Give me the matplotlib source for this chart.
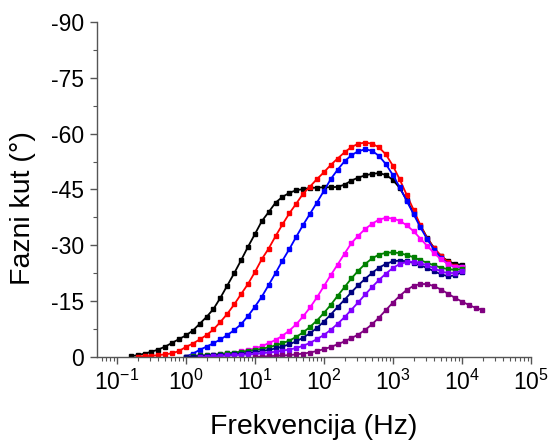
import matplotlib
matplotlib.use("Agg")
import matplotlib.pyplot as plt
import matplotlib.ticker as mticker
import numpy as np

plt.rcParams['font.family'] = ['Liberation Sans', 'DejaVu Sans']
plt.rcParams['mathtext.fontset'] = 'custom'
plt.rcParams['mathtext.rm'] = 'Liberation Sans'
plt.rcParams['axes.unicode_minus'] = False

# frequency grid, 10 points per decade (Hz)
freq = [0.158, 0.2, 0.251, 0.316, 0.398, 0.501, 0.631, 0.794,
        1.0, 1.26, 1.58, 2.0, 2.51, 3.16, 3.98, 5.01, 6.31, 7.94,
        10, 12.6, 15.8, 20.0, 25.1, 31.6, 39.8, 50.1, 63.1, 79.4,
        100, 126, 158, 200, 251, 316, 398, 501, 631, 794,
        1000, 1259, 1585, 1995, 2512, 3162, 3981, 5012, 6310, 7943,
        10000, 12589, 15849, 19953]

# phase angle (deg), first value matches freq[start]
black = [-0.2, -0.5, -0.9, -1.4, -2.0, -2.8, -3.8, -4.8,
         -5.8, -7.1, -8.9, -10.8, -12.9, -15.9, -19.2, -22.5, -26.0, -29.6,
         -33.0, -36.5, -38.9, -41.5, -43.0, -44.1, -44.8, -45.1, -45.4, -45.5,
         -45.6, -45.6, -45.7, -46.3, -47.4, -48.2, -48.8, -49.2, -49.4, -48.9,
         -47.6, -45.4, -42.2, -38.7, -35.3, -32.0, -29.2, -27.0, -25.8, -25.0,
         -24.8]
red = [-0.1, -0.2, -0.3, -0.5, -0.7, -1.0, -1.6,
       -2.7, -3.6, -4.7, -5.9, -7.4, -9.4, -11.6, -14.1, -16.9, -19.6,
       -22.8, -26.3, -29.1, -32.5, -35.6, -38.6, -41.2, -43.9, -45.8, -47.8,
       -49.6, -51.6, -53.3, -55.0, -56.4, -57.3, -57.6, -57.3, -56.3, -54.4,
       -51.4, -47.7, -43.6, -39.6, -35.4, -31.8, -29.2, -27.2, -25.4, -24.4,
       -24.0]
blue = [-0.1, -0.9, -1.9, -2.8, -3.7, -4.7, -5.9, -7.2, -8.8, -11.0,
        -13.5, -16.2, -19.3, -22.6, -25.9, -29.0, -32.3, -35.5, -38.5, -41.5,
        -44.6, -47.8, -50.3, -52.6, -54.2, -55.3, -55.8, -55.4, -54.0, -51.8,
        -48.9, -45.6, -42.0, -38.4, -34.8, -31.6, -28.8, -26.6, -25.0, -24.2,
        -24.1]
magenta = [-0.1, -0.3, -0.4, -0.5, -0.6, -0.8, -1.0, -1.2, -1.5, -1.9,
           -2.3, -2.9, -3.7, -4.6, -5.7, -7.1, -8.8, -10.9, -13.3, -16.0,
           -19.0, -22.0, -24.8, -27.8, -30.6, -32.6, -34.4, -35.8, -36.9, -37.4,
           -37.2, -36.6, -35.4, -33.8, -31.8, -29.8, -27.9, -26.2, -25.0, -24.3,
           -24.2]
green = [0.0, -0.2, -0.4, -0.5, -0.6, -0.8, -1.0, -1.2, -1.4, -1.6,
         -1.9, -2.2, -2.6, -3.1, -3.7, -4.4, -5.4, -6.6, -8.1, -9.8,
         -11.8, -14.0, -16.4, -18.8, -21.1, -23.2, -25.0, -26.5, -27.5, -28.0,
         -28.1, -27.9, -27.4, -26.8, -26.0, -25.3, -24.6, -24.0, -23.6, -23.4,
         -23.6]
navy = [0.0, -0.1, -0.2, -0.3, -0.4, -0.5, -0.6, -0.7, -0.9, -1.1,
        -1.3, -1.6, -1.9, -2.3, -2.8, -3.4, -4.2, -5.2, -6.4, -7.8,
        -9.5, -11.4, -13.4, -15.4, -17.4, -19.3, -21.0, -22.6, -24.0, -25.0,
        -25.7, -25.9, -25.7, -25.3, -24.6, -23.9, -23.0, -22.2, -21.7, -21.9,
        -22.8]
violet = [0.0, -0.1, -0.2, -0.3, -0.4, -0.5, -0.6, -0.7,
          -0.8, -1.0, -1.2, -1.4, -1.7, -2.0, -2.4, -3.0, -3.8, -4.8,
          -5.9, -7.3, -8.9, -10.7, -12.7, -14.7, -16.8, -18.8, -20.7, -22.4,
          -23.9, -25.0, -25.5, -25.6, -25.2, -24.6, -23.8, -23.0, -22.5, -22.6,
          -23.2]
purple = [0.0, -0.1, -0.2, -0.3, -0.4, -0.5, -0.7, -0.9, -1.2, -1.6,
          -2.1, -2.7, -3.4, -4.2, -5.1, -6.0, -7.3, -8.8, -10.6, -12.6,
          -14.6, -16.4, -18.0, -19.1, -19.6, -19.6, -19.0, -18.1, -17.0, -15.9,
          -14.9, -14.0, -13.2, -12.6]

x_ticks = [1e-1, 1e0, 1e1, 1e2, 1e3, 1e4, 1e5]
y_ticks = [0, -15, -30, -45, -60, -75, -90]

series = [
    (black, 0, "black"),
    (red, 1, "#ff0000"),
    (blue, 8, "#0000ff"),
    (magenta, 8, "#ff00ff"),
    (green, 8, "#008000"),
    (navy, 8, "#000080"),
    (violet, 10, "#8000ff"),
    (purple, 18, "#800080"),
]

fig = plt.figure(figsize=(5.5, 4.46), dpi=100)
ax = fig.add_axes([0.176, 0.1996, 0.789, 0.7511])

for vals, start, col in series:
    f = freq[start:start + len(vals)]
    ax.plot(f, vals, color=col, lw=1.3, marker="s", ms=2.3, mec=col, mfc=col)

ax.set_xscale("log")
ax.set_xlim(0.051, 1e5)
ax.set_ylim(0, -90)
ax.xaxis.set_major_locator(mticker.FixedLocator(x_ticks))
ax.xaxis.set_major_formatter(mticker.LogFormatterSciNotation())
ax.xaxis.set_minor_locator(mticker.LogLocator(base=10, subs=np.arange(2, 10), numticks=20))
ax.xaxis.set_minor_formatter(mticker.NullFormatter())
ax.set_yticks(y_ticks)
ax.yaxis.set_minor_locator(mticker.MultipleLocator(7.5))

for s in ["top", "right"]:
    ax.spines[s].set_visible(False)
for s in ["left", "bottom"]:
    ax.spines[s].set_color("#555555")
    ax.spines[s].set_linewidth(1.0)

ax.tick_params(which="major", direction="out", length=5, width=1, color="#555555",
               labelsize=16.5, pad=4)
ax.tick_params(which="minor", direction="out", length=3, width=0.8, color="#555555")

ax.set_xlabel("Frekvencija (Hz)", fontsize=20.5)
ax.set_ylabel("Fazni kut (°)", fontsize=20.5)
ax.xaxis.set_label_coords(0.5, -0.17)
ax.yaxis.set_label_coords(-0.14, 0.445)

fig.savefig("out.png", dpi=100, facecolor="white")
